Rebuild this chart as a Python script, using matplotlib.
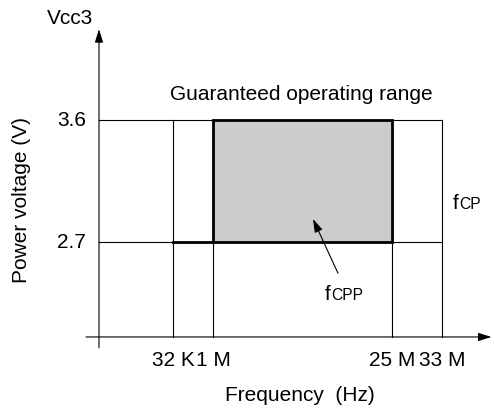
import matplotlib
matplotlib.use("Agg")
import matplotlib.pyplot as plt
import matplotlib.patches as mpatches

plt.rcParams['font.family'] = ['Liberation Sans', 'DejaVu Sans']

# data
freq_labels = ["32 K", "1 M", "25 M", "33 M"]
freq_pos = [1.48, 2.28, 5.86, 6.86]     # schematic (not to scale) positions
volt_levels = [2.7, 3.6]
v_min, v_max = 2.7, 3.6
f_lo, f_hi = 1, 2                        # indices into freq: 1 M .. 25 M  (fCPP)
f_lo_cp, f_hi_cp = 0, 3                  # 32 K .. 33 M  (fCP)
v_origin = 2.0

fig = plt.figure(figsize=(4.94, 4.11), dpi=100)
ax = fig.add_axes([0, 0, 1, 1])
ax.set_xlim(-1.98, 7.9)
ax.set_ylim(1.454, 4.485)
ax.axis("off")

thin = 0.8
thick = 2.0

# axes arrows
ax.annotate("", xy=(0, 4.27), xytext=(0, 1.92),
            arrowprops=dict(arrowstyle="-|>,head_length=0.8,head_width=0.25",
                            color="k", lw=thin, shrinkA=0, shrinkB=0))
ax.annotate("", xy=(7.85, v_origin), xytext=(-0.26, v_origin),
            arrowprops=dict(arrowstyle="-|>,head_length=0.8,head_width=0.25",
                            color="k", lw=thin, shrinkA=0, shrinkB=0))

# grid of the fCP range
for v in volt_levels:
    ax.plot([0, freq_pos[f_hi_cp]], [v, v], color="k", lw=thin)
for x in freq_pos:
    ax.plot([x, x], [v_origin, v_max], color="k", lw=thin)

# guaranteed range (fCPP)
ax.add_patch(mpatches.Rectangle((freq_pos[f_lo], v_min),
                                freq_pos[f_hi] - freq_pos[f_lo], v_max - v_min,
                                facecolor="#cccccc", edgecolor="k", lw=thick,
                                zorder=3))
ax.plot([freq_pos[f_lo_cp], freq_pos[f_lo]], [v_min, v_min], color="k", lw=thick)

fs = 15

# y ticks
for v in volt_levels:
    ax.text(-0.26, v, f"{v}", ha="right", va="center", fontsize=fs)
# x ticks
for lab, x in zip(freq_labels, freq_pos):
    ax.text(x, 1.83, lab, ha="center", va="center", fontsize=fs)

ax.text(-0.58, 4.35, "Vcc3", ha="center", va="center", fontsize=fs)
ax.text(-1.54, 3.01, "Power voltage (V)", ha="center", va="center",
        rotation=90, fontsize=fs)
ax.text(4.02, 1.57, "Frequency  (Hz)", ha="center", va="center", fontsize=fs)
ax.text(4.04, 3.785, "Guaranteed operating range", ha="center", va="center",
        fontsize=fs)


def f_label(x, y, sub):
    ax.text(x, y, "f", ha="left", va="baseline", fontsize=fs)
    ax.annotate(sub, xy=(x, y), xytext=(4.4, 0), textcoords="offset points",
                ha="left", va="baseline", fontsize=fs * 0.75)


f_label(7.08, 2.944, "CP")
f_label(4.52, 2.273, "CPP")

ax.annotate("", xy=(4.28, 2.87), xytext=(4.78, 2.47),
            arrowprops=dict(arrowstyle="-|>,head_length=0.8,head_width=0.25",
                            color="k", lw=thin, shrinkA=0, shrinkB=0),
            zorder=4)

fig.savefig("out.png", dpi=100)
